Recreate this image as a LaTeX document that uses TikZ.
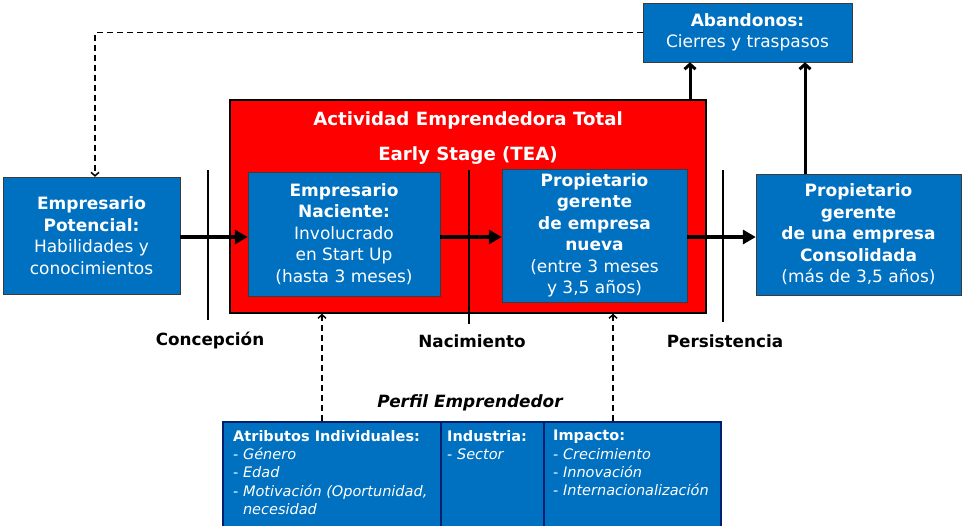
\documentclass[tikz,border=0pt]{standalone}
\usepackage{fontspec}
\setmainfont{DejaVu Sans}
\usepackage{tikz}
\usetikzlibrary{arrows.meta,calc}
\usetikzlibrary{positioning}
\definecolor{clrBlue}{RGB}{0,112,192}
\definecolor{clrNavy}{RGB}{0,32,110}
\definecolor{clrBorders}{RGB}{60,60,60}
\tikzstyle{box_style0}=[draw=clrBorders, anchor=center, text centered, text=white, inner sep=0pt, align=center]
\tikzstyle{etapa}=[box_style0, fill=clrBlue, font=\fontsize{17}{21.5}\selectfont]
\tikzstyle{tea_box}=[draw=black, line width=1.5pt, fill=red, inner sep=0pt]
\tikzstyle{perfil}=[draw=clrNavy, line width=1.5pt, fill=clrBlue, inner sep=0pt, anchor=north west, minimum height=105pt]
\tikzstyle{perfil_txt}=[text=white, align=left, anchor=north west, inner sep=0pt, font=\fontsize{14.5}{18.3}\selectfont]
\tikzstyle{myarrow}=[-{Triangle[length=13pt,width=14pt]}, line width=4pt]
\tikzstyle{uparrow}=[-{Straight Barb[length=5pt,width=11pt]}, line width=3pt]
\tikzstyle{dasharrow}=[-{Straight Barb[length=3.5pt,width=8pt]}, line width=1.5pt, dash pattern=on 6pt off 4pt]
\tikzstyle{hito}=[line width=1.5pt]
\tikzstyle{hito_txt}=[font=\bfseries\fontsize{16.8}{19}\selectfont]

\begin{document}
\begin{tikzpicture}[x=1pt,y=-1pt]
		\useasboundingbox (0,0) rectangle (965,525);

		% TEA
		\node[tea_box, minimum width=476pt, minimum height=213pt] (tea) at (468,206.5) {};
		\node[text=white, align=center, font=\bfseries\fontsize{18.2}{35}\selectfont] (teatitle) at (468,138) {Actividad Emprendedora Total\\Early Stage (TEA)};

		% hitos
		\draw[hito] (208,170) -- (208,320);
		\draw[hito] (469,170) -- (469,324);
		\draw[hito] (723,170) -- (723,322);
		\node[hito_txt] (concepcion) at (210,341) {Concepción};
		\node[hito_txt] (nacimiento) at (472,341) {Nacimiento};
		\node[hito_txt] (persistencia) at (725,341) {Persistencia};

		% etapas
		\node[etapa, minimum width=177pt, minimum height=117pt] (potencial) at (91.5,235.5) {\textbf{Empresario}\\\textbf{Potencial:}\\Habilidades y\\conocimientos};
		\node[etapa, minimum width=192pt, minimum height=124pt] (naciente) at (344,234) {\textbf{Empresario}\\\textbf{Naciente:}\\Involucrado\\en Start Up\\(hasta 3 meses)};
		\node[etapa, minimum width=185pt, minimum height=133pt] (nueva) at (594.5,235.5) {\textbf{Propietario}\\\textbf{gerente}\\\textbf{de empresa}\\\textbf{nueva}\\(entre 3 meses\\y 3,5 años)};
		\node[etapa, minimum width=205pt, minimum height=121pt] (consolidada) at (858.5,234.5) {\textbf{Propietario}\\\textbf{gerente}\\\textbf{de una empresa}\\\textbf{Consolidada}\\(más de 3,5 años)};
		\node[etapa, minimum width=209pt, minimum height=59pt] (abandonos) at (747.5,32.5) {\textbf{Abandonos:}\\Cierres y traspasos};

		% flujo
		\coordinate (flow) at (0,237);
		\draw[myarrow] (potencial.east |- flow) -- (naciente.west |- flow);
		\draw[myarrow] (naciente.east |- flow) -- (nueva.west |- flow);
		\draw[myarrow] (nueva.east |- flow) -- (consolidada.west |- flow);

		\coordinate (salidaA) at (690,0);
		\coordinate (salidaB) at (805,0);
		\draw[uparrow] (tea.north -| salidaA) -- (abandonos.south -| salidaA);
		\draw[uparrow] (consolidada.north -| salidaB) -- (abandonos.south -| salidaB);

		\draw[dasharrow] (abandonos.west) -| ([xshift=3.5pt]potencial.north);

		% perfil emprendedor
		\node[font=\bfseries\itshape\fontsize{16.9}{19}\selectfont] (perfiltitle) at (470,403) {Perfil Emprendedor};
		\node[perfil, minimum width=218pt] (atributos) at (222,421) {};
		\node[perfil, minimum width=103pt] (industria) at (440,421) {};
		\node[perfil, minimum width=177pt] (impacto) at (543,421) {};

		\node[perfil_txt] (atributos_txt) at ([xshift=11pt,yshift=-9pt]atributos.north west) {\textbf{Atributos Individuales:}\\- \textit{Género}\\- \textit{Edad}\\- \textit{Motivación (Oportunidad,}\\\phantom{- }\textit{necesidad}};
		\node[perfil_txt] (industria_txt) at ([xshift=7pt,yshift=-9pt]industria.north west) {\textbf{Industria:}\\- \textit{Sector}};
		\node[perfil_txt] (impacto_txt) at ([xshift=10pt,yshift=-9pt]impacto.north west) {\textbf{Impacto:}\\- \textit{Crecimiento}\\- \textit{Innovación}\\- \textit{Internacionalización}};

		\coordinate (perfilA) at (322,0);
		\coordinate (perfilB) at (613,0);
		\draw[dasharrow] (atributos.north -| perfilA) -- (tea.south -| perfilA);
		\draw[dasharrow] (impacto.north -| perfilB) -- (tea.south -| perfilB);

	\end{tikzpicture}
\end{document}
